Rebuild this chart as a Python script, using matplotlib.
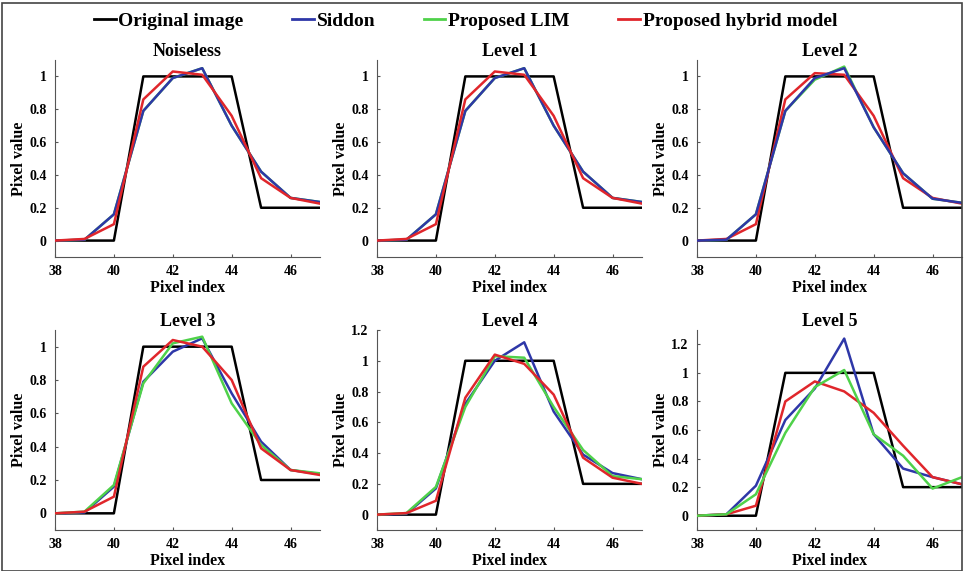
import numpy as np
import matplotlib
matplotlib.use('Agg')
import matplotlib.pyplot as plt
from matplotlib.lines import Line2D
from matplotlib.patches import Rectangle

plt.rcParams['font.family'] = ['Liberation Serif', 'DejaVu Serif']
plt.rcParams['font.weight'] = 'bold'

#%%----- data -----------------------------------------------------------------
pixel_index = [38, 39, 40, 41, 42, 43, 44, 45, 46, 47]
original = [0, 0, 0, 1, 1, 1, 1, 0.2, 0.2, 0.2]

titles = ['Noiseless', 'Level 1', 'Level 2', 'Level 3', 'Level 4', 'Level 5']

siddon = [
    [0, 0.005, 0.16, 0.79, 0.99, 1.05, 0.70, 0.42, 0.26, 0.235],
    [0, 0.005, 0.16, 0.79, 0.99, 1.05, 0.70, 0.42, 0.26, 0.235],
    [0, 0.005, 0.16, 0.79, 0.99, 1.05, 0.69, 0.41, 0.255, 0.23],
    [0, 0.005, 0.16, 0.79, 0.97, 1.05, 0.72, 0.43, 0.26, 0.235],
    [0, 0.005, 0.17, 0.72, 1.00, 1.12, 0.67, 0.39, 0.27, 0.23],
    [0, 0.01, 0.21, 0.67, 0.89, 1.24, 0.57, 0.33, 0.27, 0.22],
]
lim = [
    [0, 0.005, 0.16, 0.79, 0.99, 1.05, 0.70, 0.42, 0.26, 0.235],
    [0, 0.005, 0.16, 0.79, 0.99, 1.05, 0.70, 0.42, 0.26, 0.235],
    [0, 0.005, 0.16, 0.79, 0.98, 1.06, 0.69, 0.41, 0.255, 0.23],
    [0, 0.01, 0.17, 0.78, 1.02, 1.06, 0.66, 0.41, 0.26, 0.24],
    [0, 0.01, 0.18, 0.70, 1.03, 1.02, 0.70, 0.42, 0.25, 0.23],
    [0, 0.01, 0.15, 0.58, 0.90, 1.02, 0.57, 0.42, 0.19, 0.27],
]
hybrid = [
    [0, 0.01, 0.10, 0.86, 1.03, 1.01, 0.76, 0.38, 0.26, 0.225],
    [0, 0.01, 0.10, 0.86, 1.03, 1.01, 0.76, 0.38, 0.26, 0.225],
    [0, 0.01, 0.10, 0.86, 1.02, 1.01, 0.76, 0.38, 0.26, 0.225],
    [0, 0.01, 0.10, 0.88, 1.04, 1.00, 0.80, 0.39, 0.26, 0.23],
    [0, 0.01, 0.09, 0.76, 1.04, 0.98, 0.78, 0.37, 0.24, 0.20],
    [0, 0.01, 0.07, 0.80, 0.94, 0.87, 0.72, 0.49, 0.27, 0.22],
]
ytops = [1.1, 1.1, 1.1, 1.1, 1.2, 1.3]
yticks_list = [[0, 0.2, 0.4, 0.6, 0.8, 1]] * 4 + [[0, 0.2, 0.4, 0.6, 0.8, 1, 1.2]] * 2

# draw order per panel (later = on top)
orders = [
    ['lim', 'siddon', 'hybrid'],
    ['lim', 'siddon', 'hybrid'],
    ['lim', 'hybrid', 'siddon'],
    ['siddon', 'lim', 'hybrid'],
    ['siddon', 'lim', 'hybrid'],
    ['siddon', 'hybrid', 'lim'],
]

c_black = 'k'
c_blue = '#2e37a8'
c_green = '#4fd14a'
c_red = '#e0262b'

#%%----- figure ---------------------------------------------------------------
W, H = 964, 571
fig = plt.figure(figsize=(W / 100, H / 100), dpi=100)

lefts = [55, 377, 697]
rights = [320, 642, 962]
tops = [60, 330]
bottoms = [257, 530]

for i in range(6):
    r, c = divmod(i, 3)
    l, rt = lefts[c], rights[c]
    t, b = tops[r], bottoms[r]
    ax = fig.add_axes([l / W, 1 - b / H, (rt - l) / W, (b - t) / H])
    ax.plot(pixel_index, original, color=c_black, lw=1.8, zorder=2)
    series = {'siddon': (siddon[i], c_blue), 'lim': (lim[i], c_green),
              'hybrid': (hybrid[i], c_red)}
    for z, key in enumerate(orders[i]):
        vals, col = series[key]
        ax.plot(pixel_index, vals, color=col, lw=1.8, zorder=3 + z)
    ax.set_xlim(38, 47)
    ax.set_ylim(-0.1, ytops[i])
    ax.set_xticks([38, 40, 42, 44, 46])
    ax.set_yticks(yticks_list[i])
    ax.set_yticklabels(['%g' % v for v in yticks_list[i]])
    ax.spines['right'].set_color('none')
    ax.spines['top'].set_color('none')
    ax.spines['left'].set_color('#555555')
    ax.spines['bottom'].set_color('#555555')
    ax.tick_params(direction='in', length=2, labelsize=10, pad=6, color='#555555')
    for lab in ax.get_xticklabels() + ax.get_yticklabels():
        lab.set_fontweight('bold')
    ax.set_xlabel('Pixel index', fontsize=11.5, fontweight='bold', labelpad=1)
    ax.set_ylabel('Pixel value', fontsize=11.5, fontweight='bold', labelpad=2)
    ax.set_title(titles[i], fontsize=13, fontweight='bold', pad=3)

handles = [Line2D([], [], color=c_black, lw=2),
           Line2D([], [], color=c_blue, lw=2),
           Line2D([], [], color=c_green, lw=2),
           Line2D([], [], color=c_red, lw=2)]
labels = ['Original image', 'Siddon', 'Proposed LIM', 'Proposed hybrid model']
fig.legend(handles, labels, loc='center', bbox_to_anchor=(0.483, 1 - 21 / H),
           ncol=4, frameon=False, handlelength=1.1, handletextpad=0.15,
           columnspacing=2.5, prop={'weight': 'bold', 'size': 14})

# outer frame
fig.patches.append(Rectangle((0.002, 0.0), 0.996, 0.995, transform=fig.transFigure,
                             fill=False, edgecolor='#444444', lw=1.2))

fig.savefig('out.png', dpi=100)
